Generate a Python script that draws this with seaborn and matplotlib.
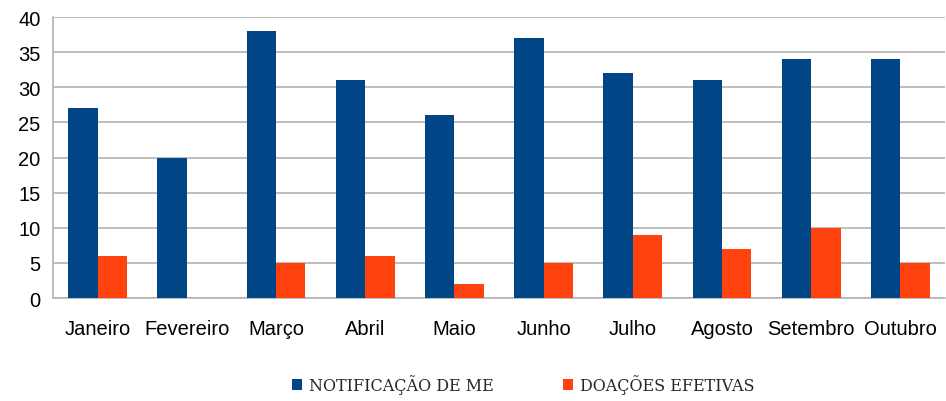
import numpy as np
import pandas as pd
import matplotlib
matplotlib.use('Agg')
import matplotlib.pyplot as plt
import seaborn as sns

meses = ['Janeiro', 'Fevereiro', 'Março', 'Abril', 'Maio', 'Junho',
         'Julho', 'Agosto', 'Setembro', 'Outubro']
notificacao = [27, 20, 38, 31, 26, 37, 32, 31, 34, 34]
doacoes = [6, 0, 5, 6, 2, 5, 9, 7, 10, 5]
series = ['NOTIFICAÇÃO DE ME', 'DOAÇÕES EFETIVAS']

df = pd.DataFrame({'mes': meses * 2,
                   'valor': notificacao + doacoes,
                   'serie': [series[0]] * len(meses) + [series[1]] * len(meses)})

sns.set_style('white')
plt.rcParams['font.family'] = ['Liberation Sans', 'DejaVu Sans']

fig = plt.figure(figsize=(9.46, 4.02), dpi=100)
ax = fig.add_axes([0.056, 0.256, 0.943, 0.699])

sns.barplot(data=df, x='mes', y='valor', hue='serie', order=meses,
            hue_order=series, palette=['#004586', '#ff420e'],
            width=0.66, saturation=1, ax=ax, legend=True, zorder=3,
            linewidth=0, edgecolor='none')

ax.set_ylim(0, 40)
ax.set_xlim(-0.5, len(meses) - 0.5)
ax.set_yticks(range(0, 41, 5))
ax.yaxis.grid(True, color='#b3b3b3', linewidth=1.2, zorder=0)
ax.set_axisbelow(True)
ax.set_xlabel('')
ax.set_ylabel('')

for s in ['top', 'right']:
    ax.spines[s].set_visible(False)
ax.spines['left'].set_color('#b3b3b3')
ax.spines['bottom'].set_color('#b3b3b3')
ax.spines['left'].set_linewidth(1.2)
ax.spines['bottom'].set_linewidth(1.2)

ax.tick_params(axis='y', length=7, color='#b3b3b3', width=1.2, labelsize=14.5,
               labelcolor='black', pad=2)
ax.tick_params(axis='x', which='major', length=0, labelsize=14.5,
               labelcolor='black', pad=15)
ax.set_xticks(np.arange(-0.5, len(meses) + 0.5, 1), minor=True)
ax.tick_params(axis='x', which='minor', length=9, color='#b3b3b3', width=1.2)

handles, labels = ax.get_legend_handles_labels()
ax.legend(handles, labels, loc='center', bbox_to_anchor=(0.527, -0.306),
          ncol=2, frameon=False, handlelength=0.65, handleheight=0.65,
          columnspacing=4.3, handletextpad=0.45,
          prop={'family': 'DejaVu Serif', 'size': 11.5})

fig.savefig('out.png', dpi=100)
